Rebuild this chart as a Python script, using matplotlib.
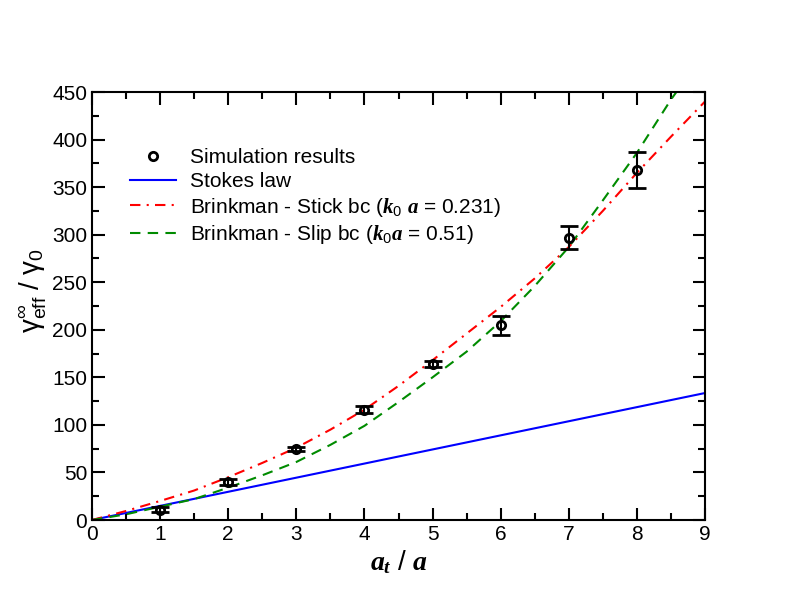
import numpy as np
import matplotlib
matplotlib.use("Agg")
import matplotlib.pyplot as plt
from matplotlib.lines import Line2D
from matplotlib.ticker import MultipleLocator

plt.rcParams['font.family'] = ['Liberation Sans', 'DejaVu Sans']
plt.rcParams['mathtext.fontset'] = 'custom'
plt.rcParams['mathtext.rm'] = 'Liberation Sans'
plt.rcParams['mathtext.it'] = 'Liberation Serif:italic:bold'
plt.rcParams['mathtext.bf'] = 'Liberation Serif:bold'

# simulation results
x_sim = [1, 2, 3, 4, 5, 6, 7, 8]
y_sim = [11, 40, 75, 116, 164, 205, 297, 368]
err_sim = [3, 3, 2, 4, 3, 10, 12, 19]

# Stokes law
x_stokes = [0, 9]
y_stokes = [0, 133.5]

# Brinkman - stick bc
x_stick = [0, 0.5, 1, 1.5, 2, 2.5, 3, 3.5, 4, 4.5, 5, 5.5, 6, 6.5, 7, 7.5, 8, 8.5, 9]
y_stick = [0, 9.5, 20, 31, 45, 60, 76, 95, 116, 141, 168, 196, 224, 254, 287, 325, 365, 403, 440]

# Brinkman - slip bc
x_slip = [0, 0.5, 1, 1.5, 2, 2.5, 3, 3.5, 4, 4.5, 5, 5.5, 6, 6.5, 7, 7.5, 8, 8.5, 8.6]
y_slip = [0, 6, 14, 22, 34, 47, 61, 79, 99, 124, 150, 177, 209, 246, 287, 336, 386, 442, 452]

fig = plt.figure(figsize=(7.92, 6.12), dpi=100)
ax = fig.add_axes([92/792, 92/612, 613/792, 428/612])

ax.plot(x_stokes, y_stokes, color='#0000ff', lw=1.5)
ax.plot(x_stick, y_stick, color='#ff0000', lw=1.5, linestyle=(0, (5, 3, 1, 3)))
ax.plot(x_slip, y_slip, color='#008b00', lw=1.5, linestyle=(0, (5, 3.5)))
ax.errorbar(x_sim, y_sim, yerr=err_sim, fmt='o', color='black', mfc='none',
            ms=6, mew=2, elinewidth=1.5, capsize=6.5, capthick=1.5, zorder=5)

ax.set_xlim(0, 9)
ax.set_ylim(0, 450)
ax.xaxis.set_major_locator(MultipleLocator(1))
ax.xaxis.set_minor_locator(MultipleLocator(0.5))
ax.yaxis.set_major_locator(MultipleLocator(50))
ax.yaxis.set_minor_locator(MultipleLocator(25))
ax.tick_params(which='both', direction='in', top=True, right=True, width=1.5, labelsize=15)
ax.tick_params(which='major', length=9)
ax.tick_params(which='minor', length=5)
for s in ax.spines.values():
    s.set_linewidth(1.5)

ax.set_xlabel(r'$a_t\ /\ a$', fontsize=20, labelpad=3)
ax.set_ylabel(r'$\mathrm{\gamma^{\infty}_{eff}\ /\ \gamma_0}$', fontsize=20)
ax.yaxis.set_label_coords(-0.07, 0.535)

handles = [
    Line2D([], [], marker='o', ls='none', color='black', mfc='none', ms=6, mew=2),
    Line2D([], [], color='#0000ff', lw=1.5),
    Line2D([], [], color='#ff0000', lw=1.5, linestyle=(0, (5, 3, 1, 3))),
    Line2D([], [], color='#008b00', lw=1.5, linestyle=(0, (5, 3.5))),
]
labels = [
    'Simulation results',
    'Stokes law',
    r'Brinkman - Stick bc ($k_{\mathit{0}}\ a$ = 0.231)',
    r'Brinkman - Slip bc ($k_{\mathit{0}}a$ = 0.51)',
]
ax.legend(handles, labels, loc='upper left', bbox_to_anchor=(0.062, 0.868),
          frameon=False, fontsize=15, handlelength=2.2, handletextpad=0.7,
          labelspacing=0.22, borderpad=0, borderaxespad=0)

fig.savefig('out.png', dpi=100)
